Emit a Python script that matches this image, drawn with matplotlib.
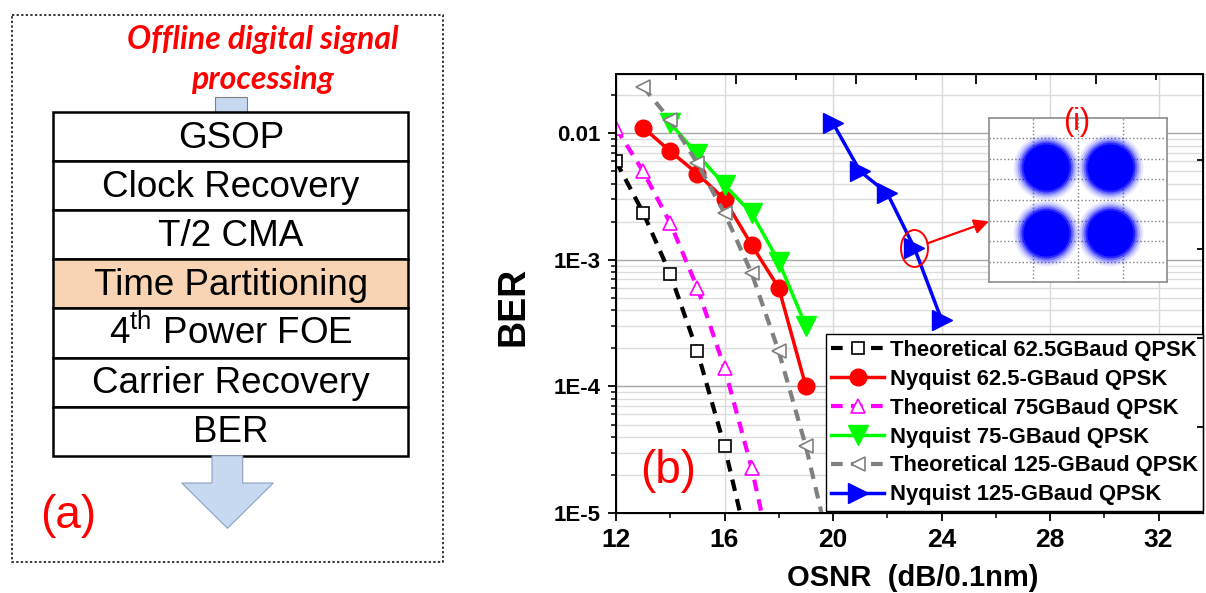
import matplotlib
matplotlib.use('Agg')
import matplotlib.pyplot as plt
from matplotlib.patches import Rectangle, Polygon
from matplotlib.path import Path
from matplotlib.transforms import Affine2D

plt.rcParams['font.family'] = ['Liberation Sans', 'DejaVu Sans']
plt.rcParams['mathtext.fontset'] = 'custom'
plt.rcParams['mathtext.rm'] = 'Liberation Sans'

# ---- data ----
osnr_th625 = [12, 13, 14, 15, 16, 17]
ber_th625 = [6.0e-3, 2.36e-3, 7.7e-4, 1.89e-4, 3.36e-5, 4.1e-6]
osnr_ny625 = [13, 14, 15, 16, 17, 18, 19]
ber_ny625 = [1.11e-2, 7.2e-3, 4.8e-3, 3.0e-3, 1.31e-3, 6.0e-4, 1.0e-4]
osnr_th75 = [12, 13, 14, 15, 16, 17, 18]
ber_th75 = [1.1e-2, 5.0e-3, 1.95e-3, 6.0e-4, 1.4e-4, 2.27e-5, 2.4e-6]
osnr_ny75 = [14, 15, 16, 17, 18, 19]
ber_ny75 = [1.2e-2, 6.8e-3, 3.9e-3, 2.34e-3, 9.7e-4, 3.0e-4]
osnr_th125 = [13, 14, 15, 16, 17, 18, 19, 20]
ber_th125 = [2.33e-2, 1.27e-2, 5.8e-3, 2.34e-3, 7.85e-4, 1.89e-4, 3.36e-5, 4.1e-6]
osnr_ny125 = [20, 21, 22, 23, 24]
ber_ny125 = [1.2e-2, 5.0e-3, 3.36e-3, 1.24e-3, 3.37e-4]

labels = ['Theoretical 62.5GBaud QPSK', 'Nyquist 62.5-GBaud QPSK',
          'Theoretical 75GBaud QPSK', 'Nyquist 75-GBaud QPSK',
          'Theoretical 125-GBaud QPSK', 'Nyquist 125-GBaud QPSK']

xticks = [12, 16, 20, 24, 28, 32]
yticks = [1e-5, 1e-4, 1e-3, 1e-2]
ytick_labels = ['1E-5', '1E-4', '1E-3', '0.01']

stages = ['GSOP', 'Clock Recovery', 'T/2 CMA', 'Time Partitioning',
          '4$^{\\mathrm{th}}$ Power FOE', 'Carrier Recovery', 'BER']

const_i = [-1, 1, -1, 1]
const_q = [1, 1, -1, -1]

W, H = 1206, 593
fig = plt.figure(figsize=(W / 100, H / 100), dpi=100)

# ---- (a) block diagram, drawn in pixel coordinates ----
ax0 = fig.add_axes([0, 0, 1, 1])
ax0.set_xlim(0, W)
ax0.set_ylim(H, 0)
ax0.axis('off')

ax0.add_patch(Rectangle((11.7, 15), 431.6, 546.7, fill=False, ec='black',
                        lw=1.1, ls=(0, (1.5, 1.5))))
ax0.text(262.5, 40, 'Offline digital signal', color='red', fontsize=23,
         family='Lato', weight='bold', style='italic', ha='center', va='center')
ax0.text(262, 79, 'processing', color='red', fontsize=23,
         family='Lato', weight='bold', style='italic', ha='center', va='center')

blue_fill = '#C6D9F1'
ax0.add_patch(Rectangle((215, 96.7), 31.7, 15.3, fc=blue_fill, ec='#7F7F7F', lw=0.8))

top, row_h, x0, bw = 112, 49.1, 53.3, 355
for i, s in enumerate(stages):
    fc = '#F8D4B4' if s == 'Time Partitioning' else 'white'
    ax0.add_patch(Rectangle((x0, top + i * row_h), bw, row_h, fc=fc, ec='black', lw=1.8))
    ax0.text(x0 + bw / 2, top + (i + 0.5) * row_h + 11, s, fontsize=26.5,
             ha='center', va='baseline')

ax0.add_patch(Polygon([(212, 455.7), (242.7, 455.7), (242.7, 483), (273.3, 483),
                       (227.5, 528.3), (181.7, 483), (212, 483)],
                      closed=True, fc=blue_fill, ec='#8CA0BE', lw=0.8))
ax0.text(68, 516, '(a)', color='red', fontsize=33, ha='center', va='center')

# ---- (b) BER curves ----
ax = fig.add_axes([616 / W, 1 - 513 / H, (1203 - 616) / W, (513 - 74) / H])
ax.set_yscale('log')

dash = (2.8, 2.0)
ax.plot(osnr_th625, ber_th625, color='black', lw=3.0, dashes=dash,
        marker='s', ms=8, mfc='white', mec='black', mew=1.2, label=labels[0])
ax.plot(osnr_ny625, ber_ny625, color='red', lw=2.5, marker='o', ms=12,
        mfc='red', mec='red', label=labels[1])
ax.plot(osnr_th75, ber_th75, color='#FF00FF', lw=3.0, dashes=dash,
        marker='^', ms=10, mfc='white', mec='#FF00FF', mew=1.2, label=labels[2])
ax.plot(osnr_ny75, ber_ny75, color='#00FF00', lw=2.5, marker='v', ms=14,
        mfc='#00FF00', mec='#00FF00', label=labels[3])
ax.plot(osnr_th125, ber_th125, color='#808080', lw=3.0, dashes=dash,
        marker='<', ms=10, mfc='white', mec='#808080', mew=1.2, label=labels[4])
ax.plot(osnr_ny125, ber_ny125, color='#0000FF', lw=2.5, marker='>', ms=14.5,
        mfc='#0000FF', mec='#0000FF', label=labels[5])

ax.set_xlim(12, 33.64)
ax.set_ylim(1e-5, 10 ** (-1.532))
ax.set_xticks(xticks)
ax.set_xticks([14, 18, 22, 26, 30], minor=True)
ax.set_xticklabels([str(v) for v in xticks])
ax.set_yticks(yticks)
ax.set_yticklabels(ytick_labels)
for lab in ax.get_xticklabels():
    lab.set_fontweight('bold')
    lab.set_fontsize(19)
for lab in ax.get_yticklabels():
    lab.set_fontweight('bold')
    lab.set_fontsize(16)
ax.tick_params(which='major', direction='out', length=6, width=1.3, pad=5)
ax.tick_params(which='minor', direction='out', length=3.5, width=1.1)
ax.tick_params(axis='y', which='minor', labelleft=False)
for sp in ax.spines.values():
    sp.set_linewidth(1.4)

ax.grid(which='major', axis='x', color='#D9D9D9', lw=1)
ax.grid(which='major', axis='y', color='#A6A6A6', lw=1)
ax.grid(which='minor', axis='y', color='#DCDCDC', lw=1)
ax.set_axisbelow(True)

leg = ax.legend(loc='lower right', bbox_to_anchor=(1.0, 0.005), borderaxespad=0,
                prop={'weight': 'bold', 'size': 15.8}, handlelength=2.4,
                handletextpad=0.25, labelspacing=0.36, borderpad=0.25,
                numpoints=1, fancybox=False, framealpha=1, edgecolor='black')
leg.get_frame().set_linewidth(1.0)

ax.text(0.088, 0.095, '(b)', transform=ax.transAxes, color='red', fontsize=33,
        ha='center', va='center')

# top and right axes carry their own plain ticks
ax_top = ax.twiny()
ax_top.set_xlim(0, 587)
ax_top.set_xticks([0, 120, 240, 360, 480])
ax_top.set_xticks([60, 180, 300, 420, 540], minor=True)
ax_top.tick_params(which='both', direction='in', labeltop=False, width=1.3)
ax_top.tick_params(which='major', length=7)
ax_top.tick_params(which='minor', length=4)

ax_r = ax.twinx()
ax_r.set_ylim(513, 74)
ax_r.set_yticks([160, 249, 338, 427])
ax_r.tick_params(direction='in', length=4, width=1.3, labelright=False)

fig.text(513 / W, 1 - 306 / H, 'BER', rotation=90, fontsize=27, weight='bold',
         ha='center', va='center')
fig.text(913 / W, 1 - 578 / H, 'OSNR  (dB/0.1nm)', fontsize=21, weight='bold',
         ha='center', va='center')

# ---- inset (i): received constellation ----
axin = fig.add_axes([989 / W, 1 - 282 / H, 178 / W, 164 / H])
axin.set_xlim(-2.78, 2.78)
axin.set_ylim(-2.48, 2.48)
axin.set_xticks([-1.4, 0, 1.4])
axin.set_yticks([-1.875, -1.25, -0.625, 0, 0.625, 1.25, 1.875])
axin.tick_params(length=0, labelbottom=False, labelleft=False)
axin.grid(True, ls=':', color='#7F7F7F', lw=1)
axin.set_axisbelow(True)
for sp in axin.spines.values():
    sp.set_color('#8C8C8C')
    sp.set_linewidth(1.2)
# soft-edged clouds: stacked discs of growing opacity
for d, a in [(66, 0.08), (62, 0.12), (58, 0.2), (54, 0.35), (50, 0.6), (46, 1.0)]:
    axin.scatter(const_i, const_q, s=(d * 0.72) ** 2, color='#0000FF', alpha=a, lw=0)
fig.text(1077 / W, 1 - 122 / H, '(i)', color='red', fontsize=22,
         ha='center', va='center')

# marked point and arrow to the inset
ring = Path.unit_circle().transformed(Affine2D().scale(0.73, 1.0))
ax.plot(osnr_ny125[3], ber_ny125[3], marker=ring, ms=26.6, mfc='none',
        mec='red', mew=1.4, ls='none', clip_on=False)
ax.annotate('', xy=(0, 0.37), xycoords=axin.transAxes,
            xytext=(osnr_ny125[3], ber_ny125[3]), textcoords='data',
            arrowprops=dict(arrowstyle='-|>', color='red', lw=1.6,
                            shrinkA=10, shrinkB=0, mutation_scale=22))

plt.savefig('out.png', dpi=100)
plt.close()
